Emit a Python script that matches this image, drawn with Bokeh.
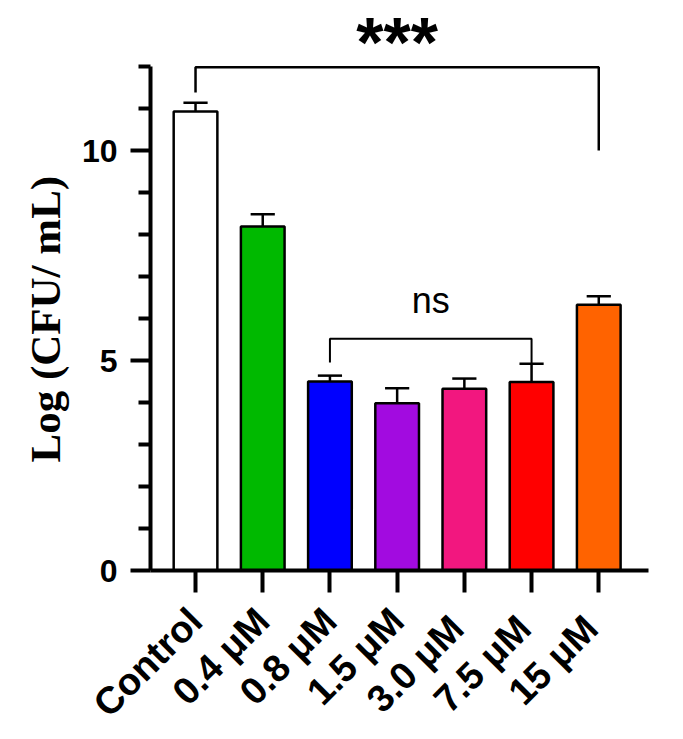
import math
from bokeh.plotting import figure
from bokeh.models import FixedTicker, Range1d, ColumnDataSource, Title
from bokeh.embed import file_html
from bokeh.resources import INLINE
from bokeh.core.properties import value

# ---- data ----
categories = ["Control", "0.4 μM", "0.8 μM", "1.5 μM", "3.0  μM", "7.5  μM", "15  μM"]
means = [10.93, 8.19, 4.50, 3.98, 4.33, 4.49, 6.33]
errors = [0.21, 0.29, 0.14, 0.36, 0.24, 0.43, 0.20]
colors = ["#FFFFFF", "#00B900", "#0000FF", "#A20BE0", "#F2177F", "#FF0000", "#FF6300"]
y_ticks = [0, 5, 10]
y_minor_ticks = [1, 2, 3, 4, 6, 7, 8, 9, 11, 12]
y_title = "Log (CFU/ mL)"

# significance brackets (category index, value)
sig_bracket_x = [0, 0, 6, 6]
sig_bracket_y = [11.38, 11.98, 11.98, 10.0]
sig_label = "***"
sig_label_pos = (3, 12.57)
ns_bracket_x = [2, 2, 5, 5]
ns_bracket_y = [4.95, 5.52, 5.52, 4.93]
ns_label = "ns"
ns_label_pos = (3.5, 6.43)

xs = list(range(len(categories)))
upper = [m + e for m, e in zip(means, errors)]
cap_half = 0.18
src = ColumnDataSource(dict(x=xs, top=means, color=colors, upper=upper,
                            cx0=[x - cap_half for x in xs], cx1=[x + cap_half for x in xs]))

p = figure(frame_width=498, frame_height=559,
           x_range=Range1d(-0.67, 6.74), y_range=Range1d(0, 13.31),
           output_backend="svg", toolbar_location=None,
           min_border_left=150, min_border_right=27, min_border_top=11, min_border_bottom=155)
p.grid.visible = False
p.outline_line_color = None
p.background_fill_color = "white"
p.border_fill_color = "white"

p.vbar(x="x", top="top", width=0.65, fill_color="color", line_color="black",
       line_width=2.5, source=src)
p.segment(x0="x", y0="top", x1="x", y1="upper", line_color="black", line_width=2.5, source=src)
p.segment(x0="cx0", y0="upper", x1="cx1", y1="upper", line_color="black", line_width=2.5, source=src)

p.line(sig_bracket_x, sig_bracket_y, line_color="black", line_width=2.5)
p.line(ns_bracket_x, ns_bracket_y, line_color="black", line_width=2)

p.text(x=[sig_label_pos[0]], y=[sig_label_pos[1]], text=[sig_label],
       text_font=value("Liberation Sans"), text_font_style="bold", text_font_size="70px",
       text_align="center", text_baseline="alphabetic", text_color="black")
p.text(x=[ns_label_pos[0]], y=[ns_label_pos[1]], text=[ns_label],
       text_font=value("Liberation Sans"), text_font_size="36px",
       text_align="center", text_baseline="alphabetic", text_color="black")

# y axis
ya = p.yaxis[0]
ya.ticker = FixedTicker(ticks=y_ticks, minor_ticks=y_minor_ticks)
ya.bounds = (0, 12)
ya.axis_line_width = 4
ya.major_tick_line_width = 4
ya.minor_tick_line_width = 4
ya.major_tick_out = 20
ya.major_tick_in = 0
ya.minor_tick_out = 12
ya.minor_tick_in = 0
ya.major_label_text_font = "Liberation Sans"
ya.major_label_text_font_style = "bold"
ya.major_label_text_font_size = "32px"
ya.major_label_text_color = "black"
ya.major_label_standoff = 13

# y axis title, placed as a side title so it can be centred on the drawn axis
p.add_layout(Title(text=y_title, align="left", offset=108, standoff=20,
                   text_font="Liberation Serif", text_font_style="bold",
                   text_font_size="43px", text_color="black"), "left")

# x axis
xa = p.xaxis[0]
xa.ticker = FixedTicker(ticks=xs, minor_ticks=[])
xa.major_label_overrides = {i: c for i, c in zip(xs, categories)}
xa.axis_line_width = 4
xa.major_tick_line_width = 4
xa.major_tick_out = 22
xa.major_tick_in = 0
xa.minor_tick_out = 0
xa.minor_tick_in = 0
xa.major_label_orientation = math.pi / 4
xa.major_label_text_font = "Liberation Sans"
xa.major_label_text_font_style = "bold"
xa.major_label_text_font_size = "38px"
xa.major_label_text_color = "black"
xa.major_label_standoff = 22

open("out.html", "w").write(file_html(p, INLINE))
